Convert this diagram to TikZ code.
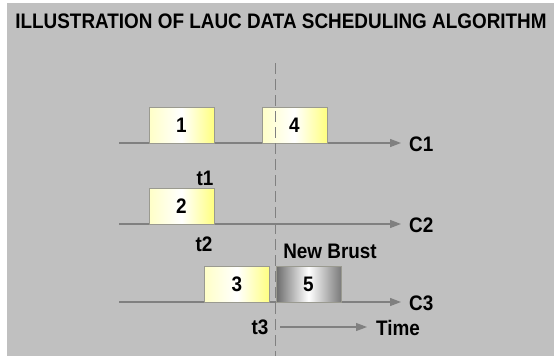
\documentclass[tikz,border=0pt]{standalone}
\usepackage{fontspec}
\setmainfont{Liberation Sans}
\usetikzlibrary{arrows.meta}
\definecolor{panel}{HTML}{C0C0C0}
\definecolor{axis}{HTML}{808080}
\definecolor{rim}{HTML}{9A9A90}
\newcommand{\lt}[1]{\scalebox{0.9}[1]{#1}}
\tikzset{
  lbl/.style={font=\bfseries\fontsize{21}{21}\selectfont, inner sep=0pt, text=black},
  burst/.style={draw=rim, line width=0.8pt, minimum width=65pt, minimum height=36pt,
    inner sep=0pt, left color=yellow!22, right color=yellow!50, middle color=white,
    font=\bfseries\fontsize{21}{21}\selectfont},
  newburst/.style={burst, left color=black!58, right color=black!52, middle color=white},
  chan/.style={draw=axis, line width=1.3pt, -{Triangle[length=11pt,width=8pt]}},
  guide/.style={draw=axis, line width=0.9pt, dash pattern=on 11pt off 5pt}
}
\begin{document}
\begin{tikzpicture}[x=1pt,y=-1pt]
  \useasboundingbox (0,0) rectangle (554,356);
  \fill[white] (0,0) rectangle (554,356);
  \fill[panel] (7,2.5) rectangle (554,356);

  % title
  \node[lbl] (title) at (281,21) {\lt{ILLUSTRATION OF LAUC DATA SCHEDULING ALGORITHM}};

  % channel labels
  \node[lbl, anchor=west] (C1) at (409,144) {\lt{C1}};
  \node[lbl, anchor=west] (C2) at (409,225) {\lt{C2}};
  \node[lbl, anchor=west] (C3) at (409,303) {\lt{C3}};

  % channel axes
  \coordinate (s1) at (119,143);
  \coordinate (s2) at (119,224);
  \coordinate (s3) at (119,302);
  \draw[chan, shorten >=8pt] (s1) -- (s1 -| C1.west);
  \draw[chan, shorten >=8pt] (s2) -- (s2 -| C2.west);
  \draw[chan, shorten >=8pt] (s3) -- (s3 -| C3.west);

  % scheduled bursts
  \node[burst] (b1) at (181.5,125) {\lt{1}};
  \node[burst] (b4) at (294.5,125) {\lt{4}};
  \node[burst] (b2) at (181.5,206) {\lt{2}};
  \node[burst] (b3) at (237,284) {\lt{3}};
  \node[newburst] (b5) at (308.5,284) {\lt{5}};

  % reference time line
  \coordinate (gtop) at (275,63);
  \coordinate (gbot) at (275,356);
  \draw[guide] (gtop) -- (gbot);

  % time markers
  \node[lbl] (t1) at (205,178) {\lt{t1}};
  \node[lbl] (t2) at (204,244) {\lt{t2}};
  \node[lbl] (t3) at (260,327) {\lt{t3}};
  \node[lbl] (nb) at (330,251) {\lt{New Brust}};

  % time direction
  \node[lbl, anchor=west] (time) at (376,328) {\lt{Time}};
  \coordinate (ts) at (280,327);
  \draw[chan, line width=1.1pt, shorten >=9pt] (ts) -- (ts -| time.west);
\end{tikzpicture}
\end{document}
